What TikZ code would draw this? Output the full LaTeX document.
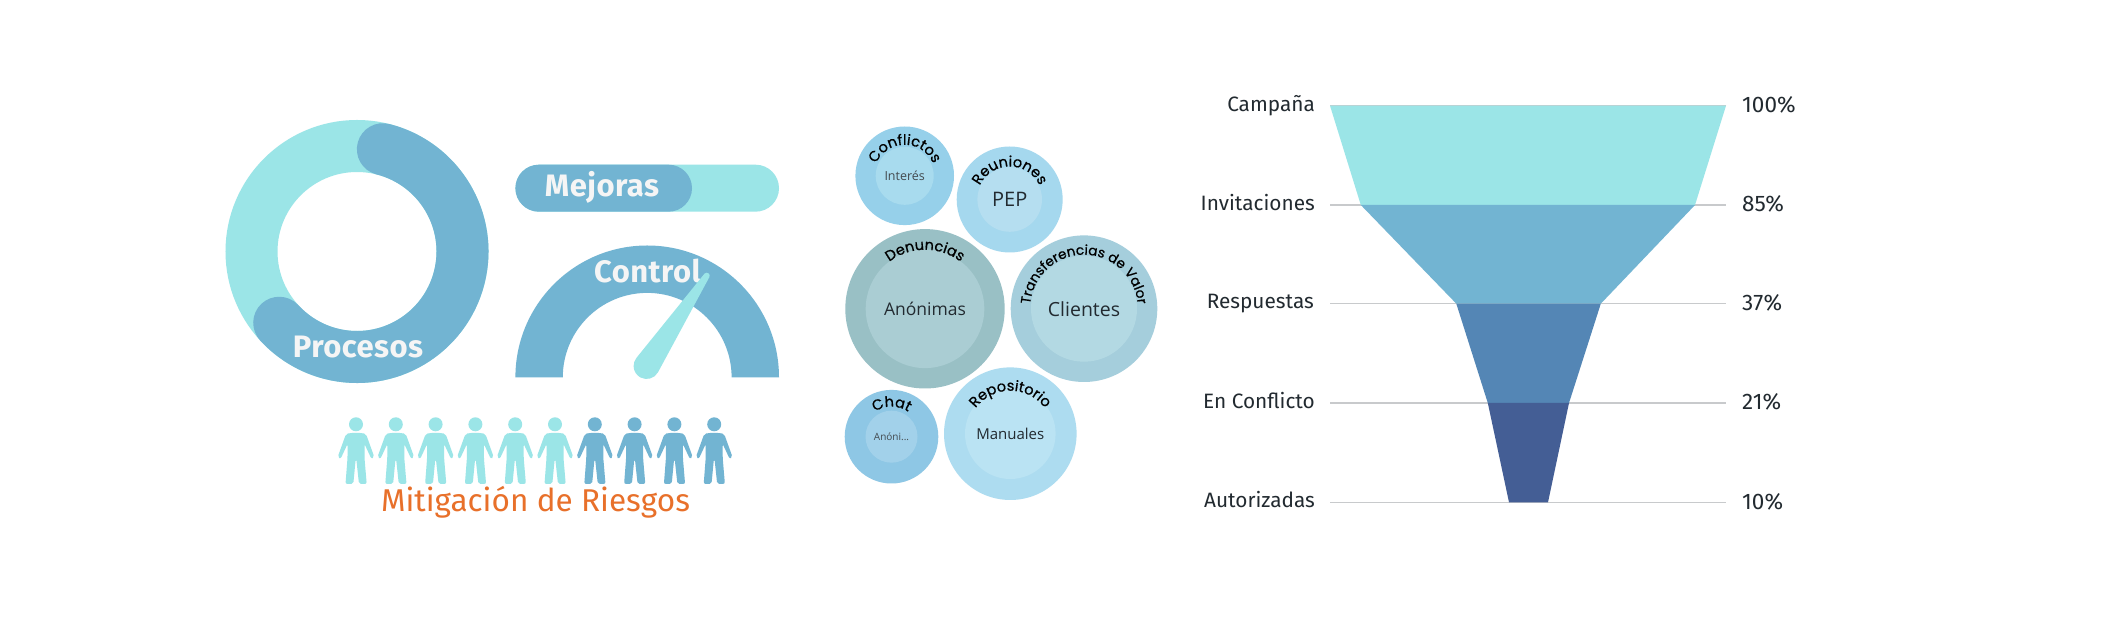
\documentclass[tikz,border=0pt]{standalone}
\usepackage{fontspec}
\usetikzlibrary{calc,decorations.text}
\setmainfont{Fira Sans}
\newfontfamily\curvefam[FakeBold=0.7]{Poppins}
\newfontfamily\roundfam{Open Sans}
\newfontfamily\whitefam[LetterSpace=1.5]{Fira Sans}
\definecolor{lightc}{HTML}{9BE5E7}
\definecolor{darkc}{HTML}{72B4D2}
\definecolor{steelc}{HTML}{5486B5}
\definecolor{navyc}{HTML}{445E95}
\definecolor{linec}{HTML}{C8CACC}
\definecolor{orangec}{HTML}{E8702A}
\definecolor{inkc}{HTML}{222A30}
\newcommand{\fsz}[1]{\fontsize{#1}{#1}\selectfont}
\newcommand{\personicon}[2]{%
  \begin{scope}[shift={(#1,0)}]
    \fill[#2] (0,193.7) circle[radius=7];
    \fill[#2,rounded corners=2] (-6,185) -- (6,185) -- (10,184) -- (18.3,161) -- (15.5,159) -- (8.5,174) -- (8.5,160) -- (10.7,134) -- (3,134) -- (0.3,159) -- (-0.3,159) -- (-2.7,134) -- (-10.5,134) -- (-8.5,160) -- (-8.5,174) -- (-15.5,159) -- (-18.3,161) -- (-10,184) -- cycle;
  \end{scope}}
\tikzset{
  whitelabel/.style={text=white!96!black,anchor=base,inner sep=0pt,font=\whitefam\bfseries\fsz{31}},
  leftlabel/.style={text=inkc,anchor=base east,inner sep=0pt,font=\fsz{20.8}},
  rightlabel/.style={text=inkc,anchor=base west,inner sep=0pt,font=\fsz{22.5}},
  guide/.style={draw=linec,line width=1.2},
  innerlabel/.style={text=inkc,anchor=center,inner sep=0pt},
  bub/.style={circle,inner sep=0pt,minimum size=#1},
  curved/.style={decorate,decoration={text along path,text align=center,text={#1}}}
}
\newcommand{\curvefont}{\curvefam\fsz{14.5}\color{black}}
\newcommand{\curvefontb}{\curvefam\fsz{13.6}\color{black}}
\begin{document}
\begin{tikzpicture}[x=1pt,y=1pt]
\useasboundingbox (0,0) rectangle (2110,618);
\fill[white] (0,0) rectangle (2110,618);
% ring
\coordinate (ringc) at (357,366.5);
\draw[lightc,line width=52] (ringc) circle[radius=105.5];
\draw[darkc,line width=52,line cap=round] ($(ringc)+(75.8:105.5)$) arc[start angle=75.8,end angle=-137.5,radius=105.5];
\node[whitelabel] (procesos) at (358,260.3) {Procesos};
% bar
\fill[lightc,rounded corners=23.5] (515.4,406.3) rectangle (779,453.3);
\fill[darkc,rounded corners=23.5] (515.4,406.3) rectangle (692,453.3);
\node[whitelabel] (mejoras) at (602,421) {Mejoras};
% gauge
\fill[darkc] (515.4,240.7) arc[start angle=180,end angle=0,radius=131.8] -- (731.6,240.7) arc[start angle=0,end angle=180,radius=84.4] -- cycle;
\node[whitelabel] (control) at (647.5,335) {Control};
\coordinate (nb) at (646.6,252);
\coordinate (nt) at (706.7,342.3);
\fill[lightc] ($(nb)+(141.1:13)$) -- ($(nt)+(141.1:3)$) arc[start angle=141.1,end angle=-28.3,radius=3] -- ($(nb)+(-28.3:13)$) arc[start angle=-28.3,end angle=-218.9,radius=13] -- cycle;
% people
\foreach \i in {0,...,5} {\personicon{356+39.8*\i}{lightc}}
\foreach \i in {6,...,9} {\personicon{356+39.8*\i}{darkc}}
\node[text=orangec,anchor=base,inner sep=0pt,font=\fsz{31.5}] (mitig) at (535.5,106.3) {Mitigación de Riesgos};
% bubbles
\definecolor{co}{HTML}{96D0EA}\definecolor{ci}{HTML}{A8DBEE}
\node[bub=98.6,fill=co] (b1) at (904.7,442.2) {};
\node[bub=58,fill=ci] (b1i) at (b1) {};
\node[innerlabel,font=\roundfam\fsz{12.5},text=inkc!85] at (b1) {Interés};
\path[curved={|\curvefont|Conflictos}] ($(b1)+(175:31)$) arc[start angle=175,end angle=5,radius=31];
\definecolor{ro}{HTML}{A5D8EE}\definecolor{ri}{HTML}{B5DEF0}
\node[bub=106,fill=ro] (b2) at (1009.7,418.5) {};
\node[bub=64.6,fill=ri] (b2i) at (b2) {};
\node[innerlabel,font=\roundfam\fsz{20}] at (b2) {PEP};
\path[curved={|\curvefont|Reuniones}] ($(b2)+(175:33)$) arc[start angle=175,end angle=5,radius=33];
\definecolor{do}{HTML}{99C0C5}\definecolor{di}{HTML}{AACDD3}
\node[bub=159.4,fill=do] (b3) at (925,309.2) {};
\node[bub=118.6,fill=di] (b3i) at (b3) {};
\node[innerlabel,font=\roundfam\fsz{17.5}] at (b3) {Anónimas};
\path[curved={|\curvefont|Denuncias}] ($(b3)+(170:59)$) arc[start angle=170,end angle=10,radius=59];
\definecolor{to}{HTML}{A5CEDC}\definecolor{ti}{HTML}{B3D9E3}
\node[bub=146.6,fill=to] (b4) at (1084,309.3) {};
\node[bub=106,fill=ti] (b4i) at (b4) {};
\node[innerlabel,font=\roundfam\fsz{19.5}] at (b4) {Clientes};
\path[curved={|\curvefontb|Transferencias de Valor}] ($(b4)+(185:54)$) arc[start angle=185,end angle=-5,radius=54];
\definecolor{ho}{HTML}{8EC7E5}\definecolor{hi}{HTML}{A2D1EA}
\node[bub=93.6,fill=ho] (b5) at (891.5,181.3) {};
\node[bub=52,fill=hi] (b5i) at (b5) {};
\node[innerlabel,font=\roundfam\fsz{10},text=inkc!85] at (b5) {Anóni...};
\path[curved={|\curvefont|Chat}] ($(b5)+(175:30)$) arc[start angle=175,end angle=5,radius=30];
\definecolor{po}{HTML}{ADDCF0}\definecolor{pi}{HTML}{BAE3F3}
\node[bub=132.6,fill=po] (b6) at (1010.3,184.3) {};
\node[bub=90.6,fill=pi] (b6i) at (b6) {};
\node[innerlabel,font=\roundfam\fsz{15}] at (b6) {Manuales};
\path[curved={|\curvefont|Repositorio}] ($(b6)+(175:43)$) arc[start angle=175,end angle=5,radius=43];
% funnel guide lines
\foreach \yy in {512.3,413,314.3,215,115.7} {\draw[guide] (1330,\yy) -- (1726,\yy);}
\fill[lightc] (1330,512.3) -- (1726,512.3) -- (1695,413) -- (1360.8,413) -- cycle;
\fill[darkc] (1360.8,413) -- (1695,413) -- (1600.8,314.3) -- (1456.3,314.3) -- cycle;
\fill[steelc] (1456.3,314.3) -- (1600.8,314.3) -- (1569,215) -- (1487.8,215) -- cycle;
\fill[navyc] (1487.8,215) -- (1569,215) -- (1548,115.7) -- (1509,115.7) -- cycle;
\node[leftlabel] (l1) at (1315,506.3) {Campaña};
\node[leftlabel] (l2) at (1315,407.3) {Invitaciones};
\node[leftlabel] (l3) at (1314,309) {Respuestas};
\node[leftlabel] (l4) at (1315,209) {En Conflicto};
\node[leftlabel] (l5) at (1315,110.3) {Autorizadas};
\begin{scope}
\clip (1735,480) rectangle (1795.5,540);
\node[rightlabel] (r1) at (1742,505.3) {100\%};
\end{scope}
\node[rightlabel] (r2) at (1742,406) {85\%};
\node[rightlabel] (r3) at (1742,307.3) {37\%};
\node[rightlabel] (r4) at (1742,208) {21\%};
\node[rightlabel] (r5) at (1742,108.7) {10\%};
\end{tikzpicture}
\end{document}
